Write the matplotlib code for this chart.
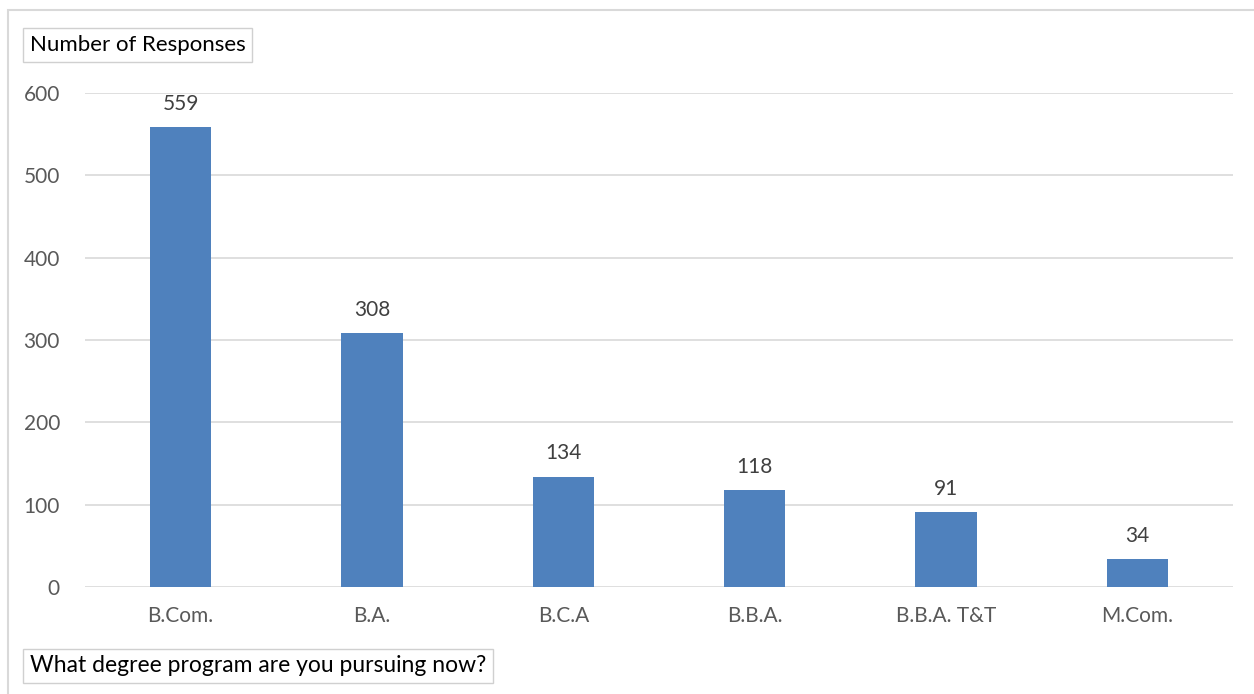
import matplotlib.pyplot as plt
from matplotlib.patches import Rectangle

# data
categories = ["B.Com.", "B.A.", "B.C.A", "B.B.A.", "B.B.A. T&T", "M.Com."]
responses = [559, 308, 134, 118, 91, 34]
y_ticks = [0, 100, 200, 300, 400, 500, 600]

plt.rcParams['font.family'] = ['Lato', 'DejaVu Sans']

fig = plt.figure(figsize=(12.54, 6.94), dpi=100)
ax = fig.add_axes([85 / 1254, 1 - 587 / 694, 1148 / 1254, 494 / 694])

x = range(len(categories))
bars = ax.bar(x, responses, width=0.32, color="#4F81BD", zorder=3)
for xi, v in zip(x, responses):
    ax.text(xi, v + 16, str(v), ha="center", va="bottom", fontsize=15, color="#404040")

ax.set_xlim(-0.5, len(categories) - 0.5)
ax.set_ylim(0, 600)
ax.set_yticks(y_ticks)
ax.set_xticks(list(x))
ax.set_xticklabels(categories)
ax.tick_params(axis="both", length=0, labelsize=15, colors="#595959")
ax.tick_params(axis="y", pad=18)
ax.tick_params(axis="x", pad=14)
ax.grid(axis="y", color="#D9D9D9", linewidth=1.2, zorder=0)
for s in ax.spines.values():
    s.set_visible(False)

# outer chart border
fig.patches.append(Rectangle((8 / 1254, -0.05), 1.1, 1 - 10 / 694 + 0.05, transform=fig.transFigure,
                             fill=False, edgecolor="#D9D9D9", linewidth=1.5))

box = dict(boxstyle="square,pad=0.3", facecolor="white", edgecolor="#D0D0D0", linewidth=1)
fig.text(30 / 1254, 1 - 45 / 694, "Number of Responses", fontsize=16, color="black",
         ha="left", va="center", bbox=box)
fig.text(30 / 1254, 1 - 666 / 694, "What degree program are you pursuing now?", fontsize=16.5,
         color="black", ha="left", va="center", bbox=box)

fig.savefig("out.png", dpi=100)
